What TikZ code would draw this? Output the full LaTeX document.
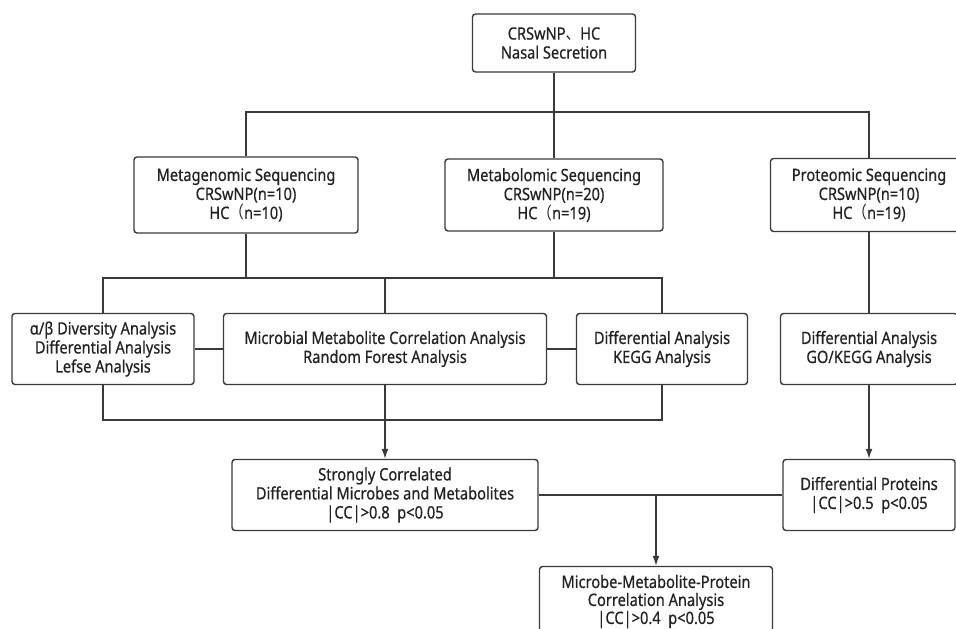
\documentclass[tikz,border=0pt]{standalone}
\usepackage{fontspec}
\setmainfont{Noto Sans}[FakeStretch=0.86, FakeBold=0.5]
\newfontfamily\cjk{Noto Sans CJK SC}[FakeStretch=0.86]
\usetikzlibrary{positioning,calc,arrows.meta}
\definecolor{linegray}{HTML}{3A3A3A}
\definecolor{textgray}{HTML}{222222}
\tikzset{
   box/.style={draw=linegray, line width=1.4pt, rounded corners=3pt, fill=white,
      align=center, inner sep=0pt, text=textgray,
      font=\fontsize{17}{19}\selectfont},
   conn/.style={draw=linegray, line width=1.4pt},
   arr/.style={conn, -{Latex[length=10pt,width=7pt]}},
}

\begin{document}
\begin{tikzpicture}[x=1pt,y=-1pt]
      \useasboundingbox (0,0) rectangle (956,629);
      \clip (0,0) rectangle (956,629);

      \node[box, minimum width=163pt, minimum height=58pt] (src) at (554,43)
         {CRSwNP{\cjk 、}HC\\Nasal Secretion};

      \node[box, minimum width=224pt, minimum height=76pt] (metag) at (246,195)
         {Metagenomic Sequencing\\CRSwNP(n=10)\\HC{\cjk （}n=10)};
      \node[box, minimum width=218pt, minimum height=72pt] (metab) at (554,195)
         {Metabolomic Sequencing\\CRSwNP(n=20)\\HC{\cjk （}n=19)};
      \node[box, minimum width=197pt, minimum height=73pt] (prot) at (869,195)
         {Proteomic Sequencing\\CRSwNP(n=10)\\HC{\cjk （}n=19)};

      \node[box, minimum width=182pt, minimum height=71pt] (div) at (103,349)
         {α/β Diversity Analysis\\Differential Analysis\\Lefse Analysis};
      \node[box, minimum width=323pt, minimum height=71pt] (mmc) at (385,349)
         {Microbial Metabolite Correlation Analysis\\Random Forest Analysis};
      \node[box, minimum width=171pt, minimum height=71pt] (kegg) at (662,349)
         {Differential Analysis\\KEGG Analysis};
      \node[box, minimum width=177pt, minimum height=71pt] (gokegg) at (869,349)
         {Differential Analysis\\GO/KEGG Analysis};

      \node[box, minimum width=306pt, minimum height=71pt] (strong) at (385,495)
         {Strongly Correlated\\Differential Microbes and Metabolites\\|CC|>0.8\ \ p<0.05};
      \node[box, minimum width=172pt, minimum height=71pt] (dprot) at (869,495)
         {Differential Proteins\\|CC|>0.5\ \ p<0.05};

      \node[box, minimum width=233pt, minimum height=70pt,
         font=\fontsize{17}{18}\selectfont] (mmp) at (656,601.5)
         {Microbe-Metabolite-Protein\\Correlation Analysis\\|CC|>0.4\ \ p<0.05};

      \coordinate (bar1) at (554,112);
      \coordinate (bar2) at (385,278);
      \coordinate (bar3) at (385,420);
      \coordinate (bar4) at (656,495);

      \draw[conn] (src) -- (metab);
      \draw[conn] (metag.north) |- (bar1) -| (prot.north);

      \draw[conn] (metag.south) -- (metag.south |- bar2);
      \draw[conn] (metab.south) -- (metab.south |- bar2);
      \draw[conn] (div.north) |- (bar2) -| (kegg.north);
      \draw[conn] (bar2) -- (mmc.north);
      \draw[conn] (div) -- (mmc);
      \draw[conn] (mmc) -- (kegg);
      \draw[conn] (div.south) |- (bar3) -| (kegg.south);
      \draw[arr] (mmc.south) -- (strong.north);

      \draw[conn] (prot) -- (gokegg);
      \draw[arr] (gokegg.south) -- (dprot.north);

      \draw[conn] (strong) -- (dprot);
      \draw[arr] (bar4) -- (mmp.north);
\end{tikzpicture}
\end{document}
